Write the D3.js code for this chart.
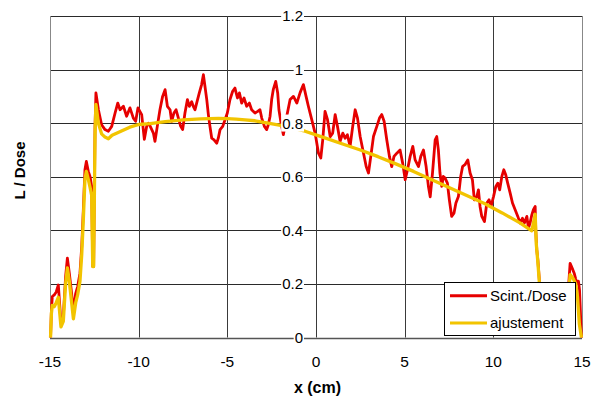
<!DOCTYPE html>
<html>
<head>
<meta charset="utf-8">
<script src="https://cdn.jsdelivr.net/npm/d3@7"></script>
<style>
  html, body { margin: 0; padding: 0; background: #fff; }
  svg { display: block; }
  text { font-family: "Liberation Sans", Arial, sans-serif; fill: #000; }
</style>
</head>
<body>
<svg id="chart" width="593" height="396"></svg>
<script>
// ---- data ----
const scintX = [-14.97,-14.92,-14.87,-14.76,-14.65,-14.53,-14.45,-14.38,-14.25,-14.12,-14.02,-13.91,-13.78,-13.68,-13.55,-13.44,-13.31,-13.21,-13.12,-13.03,-12.95,-12.84,-12.74,-12.65,-12.59,-12.54,-12.46,-12.41,-12.27,-12.09,-11.9,-11.71,-11.52,-11.33,-11.18,-11.05,-10.86,-10.68,-10.49,-10.3,-10.17,-10.04,-9.83,-9.68,-9.55,-9.45,
-9.36,-9.17,-9.08,-8.95,-8.80,-8.65,-8.51,-8.38,-8.23,-8.14,-8.01,-7.89,-7.76,-7.63,-7.52,-7.39,-7.25,-7.14,-7.01,-6.92,-6.82,-6.73,-6.58,-6.45,-6.35,-6.26,-6.16,-6.07,-5.98,-5.88,-5.75,-5.60,-5.51,-5.41,-5.26,-5.13,-5.00,-4.85,-4.70,-4.57,-4.43,-4.32,-4.19,-4.06,-3.91,-3.76,-3.63,-3.44,-3.29,-3.16,-3.06,-2.91,-2.78,-2.69,-2.59,-2.50,-2.41,-2.27,-2.16,-2.09,-1.97,-1.84,-1.65,
-1.46,-1.27,-1.08,-0.90,-0.71,-0.56,-0.43,-0.24,-0.05,0.14,0.27,0.38,0.51,0.65,0.80,0.94,1.08,1.21,1.36,1.51,1.64,1.77,1.92,2.07,2.21,2.34,2.49,2.68,2.83,2.96,3.09,3.24,3.43,3.58,3.71,3.84,3.99,4.14,4.27,4.40,4.56,4.74,4.89,5.03,5.16,5.31,5.46,5.59,5.78,5.91,6.06,6.21,6.34,6.44,6.57,6.72,6.81,6.90,6.99,7.09,7.18,7.28,7.41,7.52,7.65,7.78,7.89,8.03,8.16,8.27,8.40,8.56,8.69,8.82,8.93,9.07,9.16,9.25,9.35,9.50,9.63,9.76,9.87,10.01,10.14,10.25,10.36,10.48,10.59,10.70,10.81,10.95,11.08,11.23,11.38,11.51,11.64,11.75,11.89,11.98,12.07,12.17,12.26,12.36,12.39,12.45,12.51,12.58,12.66,12.73,12.9,13.3,13.7,14.0,14.2,14.33,14.45,14.56,14.64,14.73,14.8,14.86,14.92,14.97];
const scintY = [0.0,0.10,0.153,0.159,0.17,0.196,0.12,0.053,0.078,0.227,0.296,0.24,0.165,0.097,0.165,0.19,0.24,0.34,0.477,0.626,0.657,0.62,0.60,0.564,0.265,0.265,0.788,0.913,0.85,0.794,0.776,0.77,0.788,0.838,0.875,0.85,0.863,0.826,0.857,0.819,0.807,0.857,0.832,0.74,0.788,0.80,
0.79,0.763,0.732,0.788,0.85,0.90,0.925,0.863,0.85,0.807,0.838,0.85,0.819,0.788,0.776,0.838,0.888,0.863,0.88,0.863,0.85,0.875,0.913,0.944,0.981,0.937,0.888,0.832,0.788,0.744,0.738,0.725,0.744,0.776,0.788,0.813,0.838,0.888,0.919,0.931,0.894,0.913,0.875,0.894,0.863,0.875,0.85,0.838,0.844,0.85,0.819,0.788,0.776,0.794,0.826,0.888,0.925,0.956,0.913,0.85,0.80,0.757,0.826,
0.888,0.90,0.875,0.913,0.944,0.90,0.863,0.813,0.763,0.688,0.67,0.738,0.844,0.813,0.75,0.763,0.832,0.788,0.732,0.763,0.744,0.757,0.713,0.788,0.85,0.819,0.75,0.688,0.638,0.614,0.676,0.75,0.788,0.819,0.832,0.807,0.738,0.676,0.638,0.676,0.688,0.70,0.65,0.589,0.626,0.676,0.713,0.663,0.638,0.676,0.70,0.638,0.564,0.525,0.614,0.738,0.75,0.70,0.614,0.564,0.601,0.595,0.576,0.514,0.452,0.464,0.502,0.526,0.601,0.639,0.645,0.663,0.614,0.589,0.514,0.526,0.551,0.489,0.452,0.433,0.502,0.514,0.489,0.526,0.564,0.576,0.551,0.601,0.626,0.607,0.576,0.539,0.502,0.477,0.452,0.427,0.445,0.427,0.452,0.408,0.427,0.458,0.477,0.489,0.402,0.327,0.29,0.228,0.153,0.053,0.03,0.02,0.03,0.05,0.15,0.277,0.258,0.24,0.22,0.2,0.21,0.178,0.08,0.0];

const fitX = [-14.97,-14.92,-14.87,-14.76,-14.65,-14.53,-14.45,-14.38,-14.25,-14.12,-14.02,-13.91,-13.78,-13.68,-13.55,-13.44,-13.31,-13.21,-13.12,-13.03,-12.95,-12.84,-12.74,-12.65,-12.59,-12.54,-12.46,-12.41,-12.27,-12.09,-11.9,-11.71,-11.5,-11.0,-10.5,-10.0,-9.36,-8.5,-7.5,-6.5,-5.5,-5.0,-4.5,-4.0,-3.44,-2.7,-1.84,-0.62,0.5,1.5,2.5,3.5,4.5,5.5,6.5,7.5,8.5,9.5,10.5,11.5,12.17,12.3,12.36,12.42,12.5,12.58,12.66,12.73,13.5,14.2,14.33,14.5,14.65,14.75,14.85,14.97];
const fitY = [0.0,0.09,0.12,0.115,0.13,0.15,0.09,0.04,0.06,0.2,0.26,0.21,0.13,0.07,0.13,0.16,0.21,0.31,0.44,0.59,0.62,0.59,0.56,0.53,0.265,0.265,0.76,0.87,0.80,0.76,0.748,0.742,0.755,0.77,0.785,0.795,0.798,0.806,0.812,0.816,0.818,0.817,0.815,0.812,0.809,0.80,0.79,0.77,0.745,0.722,0.70,0.675,0.648,0.62,0.59,0.56,0.53,0.50,0.465,0.428,0.398,0.44,0.46,0.35,0.29,0.22,0.14,0.05,0.02,0.12,0.235,0.22,0.2,0.15,0.05,0.0];

const xTicks = [-15, -10, -5, 0, 5, 10, 15];
const yTicks = [0, 0.2, 0.4, 0.6, 0.8, 1, 1.2];
const seriesNames = ["Scint./Dose", "ajustement"];
const seriesColors = ["#e60000", "#f2c400"];

// ---- layout ----
const svg = d3.select("#chart");
const x = d3.scaleLinear().domain([-15, 15]).range([50, 582]);
const y = d3.scaleLinear().domain([0, 1.2]).range([337.5, 16]);

// gridlines
svg.append("g").selectAll("line.h").data(yTicks).join("line")
  .attr("x1", x(-15)).attr("x2", x(15))
  .attr("y1", d => Math.round(y(d)) + 0.5).attr("y2", d => Math.round(y(d)) + 0.5)
  .attr("stroke", d => d === 0 ? "#555" : "#2a2a2a").attr("stroke-width", d => d === 0 ? 1.5 : 1);
svg.append("g").selectAll("line.v").data(xTicks).join("line")
  .attr("y1", y(1.2)).attr("y2", y(0))
  .attr("x1", d => Math.round(x(d)) + 0.5).attr("x2", d => Math.round(x(d)) + 0.5)
  .attr("stroke", d => (d === -15 || d === 15) ? "#888" : "#3a3a3a").attr("stroke-width", 1);

// series
const line = d3.line().x(d => x(d[0])).y(d => y(d[1]));
const scintData = scintX.map((v, i) => [v, scintY[i]]);
const fitData = fitX.map((v, i) => [v, fitY[i]]);
svg.append("path").datum(scintData).attr("d", line)
  .attr("fill", "none").attr("stroke", seriesColors[0]).attr("stroke-width", 2.8).attr("stroke-linejoin", "round");
svg.append("path").datum(fitData).attr("d", line)
  .attr("fill", "none").attr("stroke", seriesColors[1]).attr("stroke-width", 3.3).attr("stroke-linejoin", "round");

// y tick labels (with white background, at x=0)
const yl = svg.append("g");
yTicks.forEach(t => {
  const g = yl.append("g");
  const txt = g.append("text")
    .attr("x", x(0) - 13).attr("y", y(t)).attr("dy", "0.36em")
    .attr("text-anchor", "end").attr("font-size", 15)
    .text(String(t));
  const b = txt.node().getBBox();
  g.insert("rect", "text").attr("x", b.x - 1).attr("y", b.y).attr("width", b.width + 2).attr("height", b.height).attr("fill", "#fff");
});

// x tick labels
svg.append("g").selectAll("text").data(xTicks).join("text")
  .attr("x", d => x(d)).attr("y", 367)
  .attr("text-anchor", "middle").attr("font-size", 15.5)
  .text(d => String(d));

// axis titles
svg.append("text").attr("x", 317.5).attr("y", 393)
  .attr("text-anchor", "middle").attr("font-size", 16).attr("font-weight", "bold")
  .text("x (cm)");
svg.append("text").attr("transform", "translate(25,170.5) rotate(-90)")
  .attr("text-anchor", "middle").attr("font-size", 15).attr("font-weight", "bold")
  .text("L / Dose");

// legend
const lg = svg.append("g");
lg.append("rect").attr("x", 444.5).attr("y", 282.5).attr("width", 131).attr("height", 53)
  .attr("fill", "#fff").attr("stroke", "#000").attr("stroke-width", 1);
seriesNames.forEach((name, i) => {
  const ly = 295.7 + i * 27.3;
  lg.append("line").attr("x1", 450).attr("x2", 487).attr("y1", ly).attr("y2", ly)
    .attr("stroke", seriesColors[i]).attr("stroke-width", 3);
  lg.append("text").attr("x", 490).attr("y", ly).attr("dy", "0.36em")
    .attr("font-size", 15).text(name);
});
</script>
</body>
</html>
